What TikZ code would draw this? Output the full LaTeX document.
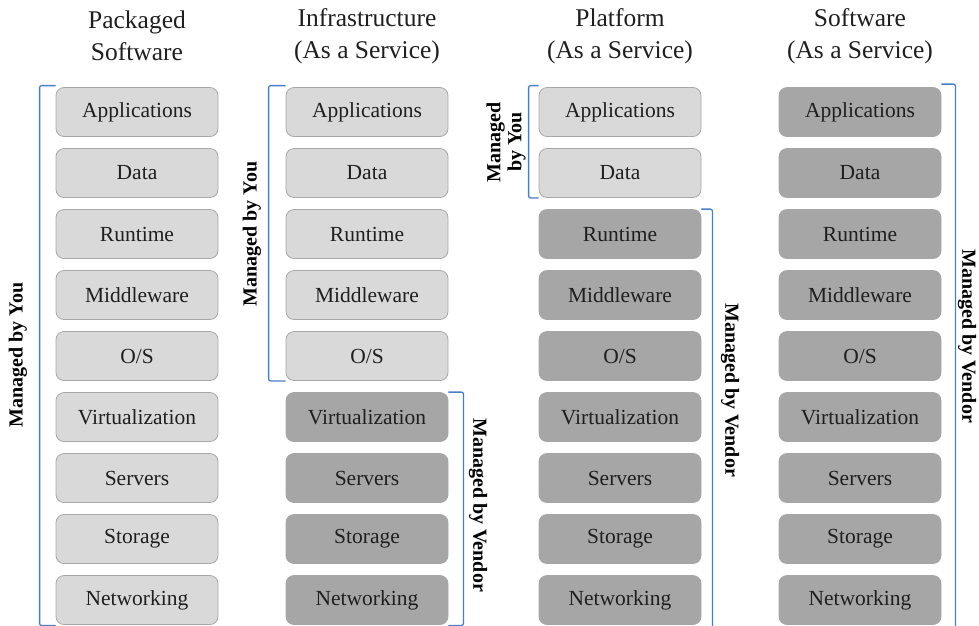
\documentclass[tikz,border=0pt]{standalone}
\usepackage{fontspec}
\setmainfont{Liberation Serif}
\definecolor{boxlight}{HTML}{D9D9D9}
\definecolor{boxdark}{HTML}{A6A6A6}
\definecolor{boxedge}{HTML}{A8A8A8}
\definecolor{bracketblue}{HTML}{4A7EC8}
\begin{document}
\begin{tikzpicture}[x=1pt, y=-1pt,
    youbox/.style={draw=boxedge, fill=boxlight, line width=0.8pt, rounded corners=8pt,
        minimum width=162pt, minimum height=49pt, inner sep=0pt,
        font=\fontsize{21.5}{26}\selectfont, text=black!88},
    vendorbox/.style={youbox, draw=boxdark, fill=boxdark},
    title/.style={align=center, font=\fontsize{25.5}{32}\selectfont, text=black!88},
    bracket/.style={draw=bracketblue, line width=1.3pt, rounded corners=2pt},
    side/.style={align=center, inner sep=1pt, font=\bfseries\fontsize{20}{21}\selectfont}]
    \useasboundingbox (0,0) rectangle (979,625);

    \node[title] (ps) at (137, 36) {Packaged\\Software};
    \node[title] (iaas) at (367, 36) {Infrastructure\\(As a Service)};
    \node[title] (paas) at (620, 36) {Platform\\(As a Service)};
    \node[title] (saas) at (860, 36) {Software\\(As a Service)};

    % the nine layers of each stack
    \foreach \name/\iaasstyle/\paasstyle [count=\i] in {Applications/youbox/youbox,
        Data/youbox/youbox, Runtime/youbox/vendorbox, Middleware/youbox/vendorbox,
        {O/S}/youbox/vendorbox, Virtualization/vendorbox/vendorbox,
        Servers/vendorbox/vendorbox, Storage/vendorbox/vendorbox,
        Networking/vendorbox/vendorbox} {
        \node[youbox] (ps-\i) at (137, 51+61*\i) {\name};
        \node[\iaasstyle] (iaas-\i) at (367, 51+61*\i) {\name};
        \node[\paasstyle] (paas-\i) at (620, 51+61*\i) {\name};
        \node[vendorbox] (saas-\i) at (860, 51+61*\i) {\name};
    }

    % brackets
    \draw[bracket] ([yshift=1.5]ps-1.north west) -- ++(-16,0) |- ([yshift=-0.5]ps-9.south west);
    \draw[bracket] ([yshift=1.5]iaas-1.north west) -- ++(-17,0) |- (iaas-5.south west);
    \draw[bracket] (iaas-6.north east) -- ++(15,0) |- ([yshift=-0.5]iaas-9.south east);
    \draw[bracket] ([yshift=1.5]paas-1.north west) -- ++(-10,0) |- (paas-2.south west);
    \draw[bracket] (paas-3.north east) -- ++(11,0) -- ++(0,430);
    \draw[bracket] ([yshift=3]saas-1.north east) -- ++(14,0) -- ++(0,560);

    \node[side, rotate=90] (ps-you) at (18, 355) {Managed by You};
    \node[side, rotate=90] (iaas-you) at (252, 234) {Managed by You};
    \node[side, rotate=-90] (iaas-vendor) at (478, 505) {Managed by Vendor};
    \node[side, rotate=90] (paas-you) at (506, 142) {Managed\\by You};
    \node[side, rotate=-90] (paas-vendor) at (730, 390) {Managed by Vendor};
    \node[side, rotate=-90] (saas-vendor) at (967, 336) {Managed by Vendor};
\end{tikzpicture}
\end{document}
